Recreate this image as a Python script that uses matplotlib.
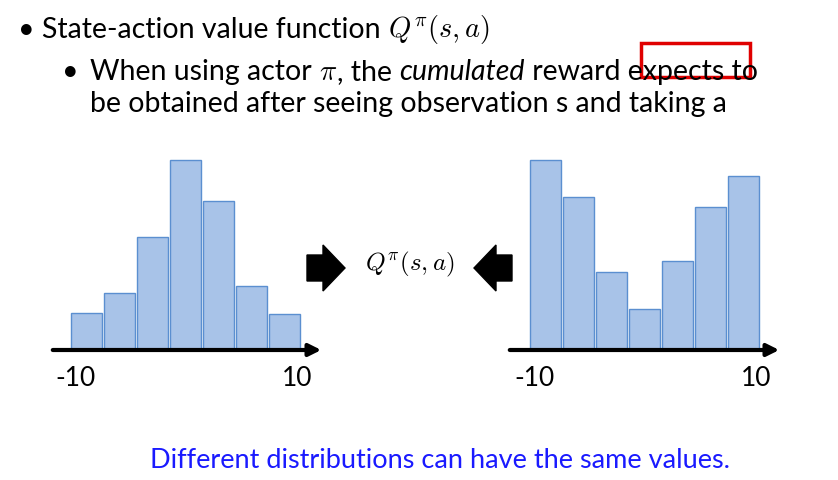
import matplotlib

matplotlib.use("Agg")
import matplotlib.pyplot as plt
from matplotlib.patches import Rectangle, FancyArrow

# bar heights (pixels above the axis line)
left_heights = [37, 57, 113, 190, 149, 64, 36]
right_heights = [190, 153, 78, 41, 89, 143, 174]
tick_labels = ["-10", "10"]

W, H = 838, 480
fig = plt.figure(figsize=(W / 100, H / 100), dpi=100)
ax = fig.add_axes([0, 0, 1, 1])
ax.set_xlim(0, W)
ax.set_ylim(H, 0)
ax.axis("off")
plt.rcParams["mathtext.fontset"] = "cm"

font = "Lato"
base = 350
renderer = fig.canvas.get_renderer()


def histogram(x0, heights, axis_left, axis_right):
    xs = [x0 + i * 33 for i in range(len(heights))]
    ax.bar(xs, [-h for h in heights], bottom=base, width=31, align="edge",
           color="#a8c3e8", edgecolor="#5b8fd0", linewidth=1)
    ax.annotate("", xy=(axis_right, base), xytext=(axis_left, base),
                arrowprops=dict(arrowstyle="-|>", color="black", lw=3, mutation_scale=18))
    ax.text(xs[0] + 4, 378, tick_labels[0], fontsize=19, family=font, ha="center", va="center")
    ax.text(xs[-1] + 28, 378, tick_labels[1], fontsize=19, family=font, ha="center", va="center")


def run_text(x, y, pieces, size):
    # lay out pieces one after another, measuring each in pixels
    for s, style in pieces:
        t = ax.text(x, y, s, fontsize=size, family=font, style=style, va="center")
        bb = t.get_window_extent(renderer)
        x += bb.width


histogram(71, left_heights, 50, 324)
histogram(530, right_heights, 507, 782)

size = 20.5
ax.text(18, 30, "•", fontsize=size, family=font, va="center")
run_text(42, 30, [("State-action value function ", "normal"),
                  ("$Q^{\\pi}(s,a)$", "normal")], size)
ax.text(62, 72, "•", fontsize=size, family=font, va="center")
run_text(90, 72, [("When using actor ", "normal"), ("$\\pi$", "normal"),
                  (", the ", "normal"), ("cumulated", "italic"),
                  (" reward expects to", "normal")], size)
ax.text(90, 104, "be obtained after seeing observation s and taking a",
        fontsize=size, family=font, va="center")
ax.add_patch(Rectangle((641, 43), 109, 34, fill=False, edgecolor="#e00000", lw=2.5))

# block arrows pointing at Q
ax.add_patch(FancyArrow(307, 268, 16, 0, width=26, head_width=46, head_length=22,
                        color="black", length_includes_head=False))
ax.add_patch(FancyArrow(512, 268, -16, 0, width=26, head_width=46, head_length=22,
                        color="black", length_includes_head=False))
ax.text(410, 264, "$Q^{\\pi}(s,a)$", fontsize=18, ha="center", va="center")

ax.text(440, 460, "Different distributions can have the same values.", fontsize=19.5,
        family=font, color="#1a1aff", ha="center", va="center")

fig.savefig("out.png", dpi=100)
